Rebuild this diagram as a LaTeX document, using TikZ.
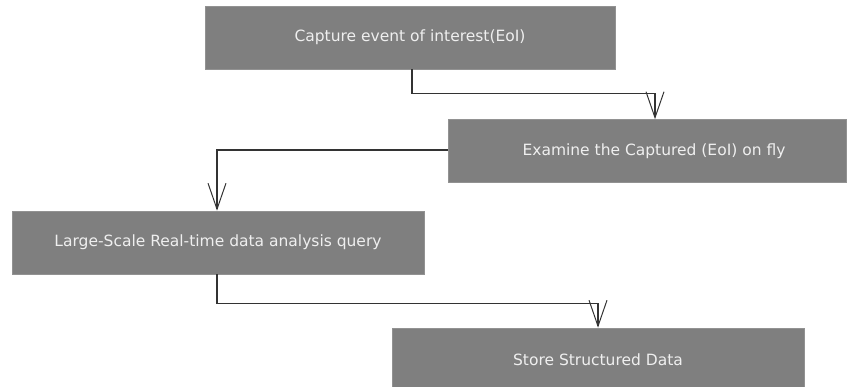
\documentclass[tikz,border=0pt]{standalone}
\usepackage{fontspec}
\setmainfont{DejaVu Sans}
\usetikzlibrary{arrows.meta}
\definecolor{boxfill}{HTML}{7F7F7F}
\definecolor{boxtext}{HTML}{EFEFEF}
\definecolor{linkcol}{HTML}{333333}
\begin{document}
\begin{tikzpicture}[x=1pt,y=-1pt,
  stagebox/.style={draw=boxfill!85!white, line width=0.6pt, fill=boxfill, text=boxtext,
    minimum height=63pt, inner sep=0pt, font=\fontsize{15.5}{18}\selectfont},
  link/.style={draw=linkcol, line width=1.1pt,
    -{Straight Barb[length=26pt,width=18pt,line width=1pt]}}]
  \useasboundingbox (0,0) rectangle (848,387);
  \node[stagebox, minimum width=410pt] (capture) at (410,37.5) {Capture event of interest(EoI)};
  \node[stagebox, minimum width=398pt] (examine) at (647,151) {\hspace{14pt}Examine the Captured (EoI) on fly};
  \node[stagebox, minimum width=412pt] (query) at (218,242.5) {Large-Scale Real-time data analysis query};
  \node[stagebox, minimum width=412pt] (store) at (598,359.5) {Store Structured Data};
  \draw[link] ([xshift=2pt]capture.south) -- ++(0,24) -| ([xshift=8pt]examine.north);
  \draw[link] ([yshift=1pt]examine.west) -| ([xshift=-1pt]query.north);
  \draw[link] ([xshift=-1pt]query.south) -- ++(0,29) -| (store.north);
\end{tikzpicture}
\end{document}
